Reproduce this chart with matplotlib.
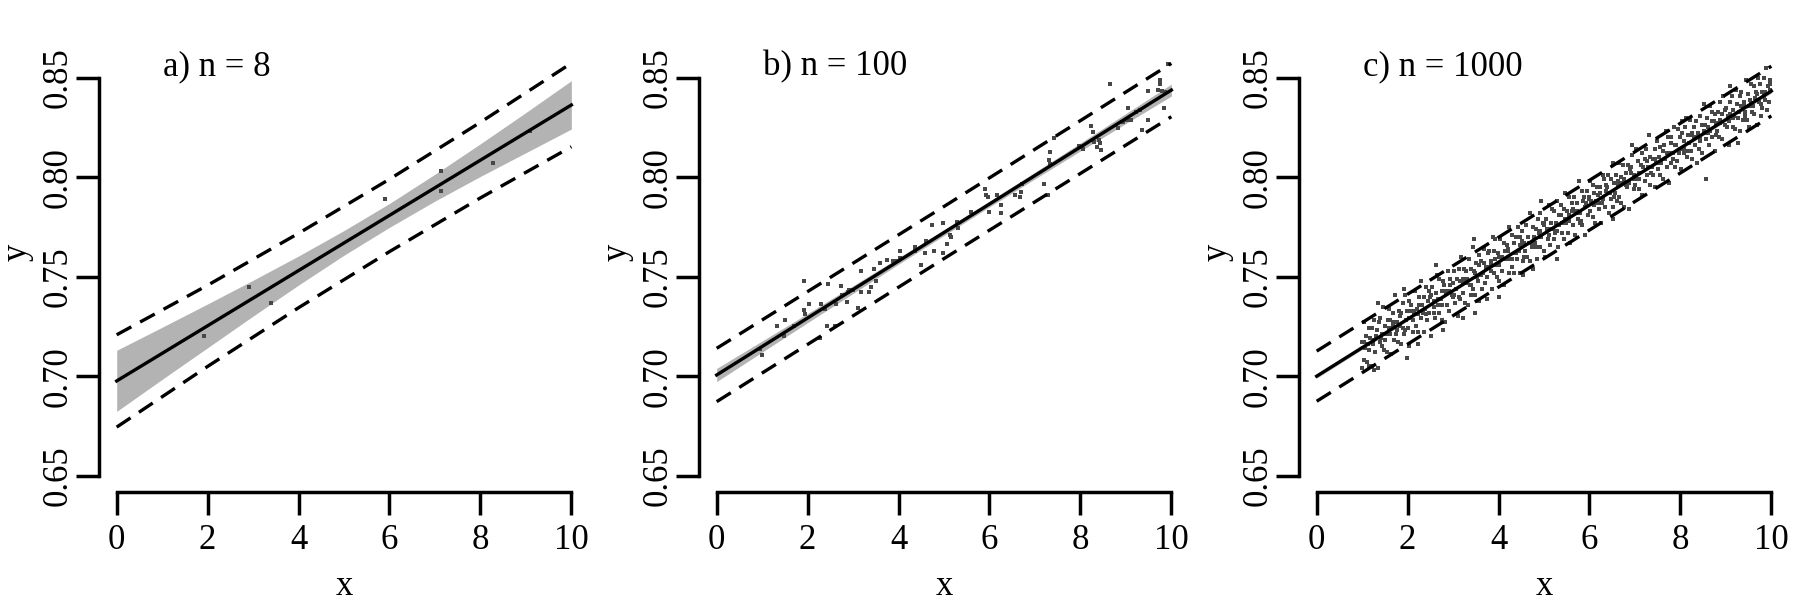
import matplotlib
matplotlib.use("Agg")
import matplotlib.pyplot as plt
import numpy as np

plt.rcParams['font.family'] = ['Liberation Serif', 'DejaVu Serif']
plt.rcParams['font.size'] = 25

# ---- panel a: n = 8 ----
xa = [1.91, 2.90, 3.40, 5.91, 7.13, 7.13, 8.27, 9.10]
ya = [0.720, 0.745, 0.737, 0.789, 0.803, 0.793, 0.807, 0.823]
a_fit_x = [0, 10]
a_fit_y = [0.6976, 0.8363]
a_band_x = [0, 1, 2, 3, 4, 5, 6, 7, 8, 9, 10]
a_band_lo = [0.6823, 0.6984, 0.7143, 0.7302, 0.7458, 0.7608, 0.7748, 0.7880, 0.8004, 0.8123, 0.8242]
a_band_hi = [0.7130, 0.7246, 0.7363, 0.7482, 0.7604, 0.7732, 0.7868, 0.8015, 0.8168, 0.8325, 0.8485]
a_pi_x = [0, 2, 4, 6, 8, 10]
a_pi_lo = [0.6744, 0.7049, 0.7344, 0.7626, 0.7896, 0.8153]
a_pi_hi = [0.7208, 0.7457, 0.7718, 0.7990, 0.8276, 0.8573]

# ---- panel b: n = 100 ----
xb = [0.95, 1.00, 1.32, 1.50, 1.49, 1.69, 1.91, 1.92, 1.94, 2.03,
      2.27, 2.29, 2.38, 2.42, 2.44, 2.60, 2.62, 2.73, 2.76, 2.86,
      2.88, 2.91, 2.99, 3.10, 3.17, 3.17, 3.35, 3.39, 3.46, 3.50,
      3.60, 3.75, 3.88, 3.96, 4.04, 4.04, 4.36, 4.36, 4.49, 4.58,
      4.61, 4.74, 4.79, 4.98, 4.97, 5.06, 5.13, 5.15, 5.28, 5.31,
      5.59, 5.90, 5.92, 5.97, 6.00, 6.16, 6.25, 6.25, 6.56, 6.67,
      6.69, 6.72, 7.20, 7.29, 7.31, 7.33, 7.34, 7.42, 7.97, 8.05,
      8.23, 8.27, 8.30, 8.37, 8.40, 8.43, 8.46, 8.65, 8.83, 8.94,
      9.03, 9.05, 9.12, 9.23, 9.30, 9.36, 9.49, 9.49, 9.71, 9.75,
      9.76, 9.80, 9.83, 9.85, 9.93]
yb = [0.7136, 0.7105, 0.7252, 0.7282, 0.7202, 0.7252, 0.7480, 0.7333, 0.7311, 0.7361,
      0.7193, 0.7361, 0.7339, 0.7252, 0.7462, 0.7252, 0.7361, 0.7451, 0.7408, 0.7371,
      0.7424, 0.7432, 0.7432, 0.7341, 0.7530, 0.7424, 0.7424, 0.7449, 0.7538, 0.7479,
      0.7570, 0.7586, 0.7580, 0.7580, 0.7629, 0.7592, 0.7647, 0.7630, 0.7559, 0.7620,
      0.7679, 0.7760, 0.7630, 0.7771, 0.7621, 0.7663, 0.7709, 0.7700, 0.7776, 0.7745,
      0.7827, 0.7939, 0.7911, 0.7900, 0.7827, 0.7911, 0.7860, 0.7818, 0.7911, 0.7898,
      0.7928, 0.7965, 0.7968, 0.7911, 0.8086, 0.8128, 0.8066, 0.8198, 0.8157, 0.8140,
      0.8257, 0.8229, 0.8179, 0.8150, 0.8186, 0.8170, 0.8136, 0.8468, 0.8245, 0.8279,
      0.8290, 0.8346, 0.8287, 0.8329, 0.8337, 0.8238, 0.8287, 0.8435, 0.8438, 0.8468,
      0.8488, 0.8435, 0.8346, 0.8430, 0.8569]
b_fit_x = [0, 10]
b_fit_y = [0.7006, 0.8438]
b_band_x = [0, 2, 4, 6, 8, 10]
b_band_lo = [0.6973, 0.7269, 0.7563, 0.7851, 0.8132, 0.8408]
b_band_hi = [0.7039, 0.7315, 0.7595, 0.7879, 0.8172, 0.8468]
b_pi_x = [0, 5, 10]
b_pi_lo = [0.6872, 0.7591, 0.8304]
b_pi_hi = [0.7140, 0.7853, 0.8572]

# ---- panel c: n = 1000 (x in hundredths, y in thousandths) ----
xc_h = [
    100, 103, 104, 106, 109, 110, 113, 115, 116, 118,
    121, 122, 124, 127, 128, 131, 132, 134, 137, 139,
    140, 143, 144, 146, 149, 150, 153, 155, 156, 158,
    161, 162, 164, 167, 168, 171, 172, 174, 177, 179,
    180, 183, 184, 186, 189, 190, 193, 195, 196, 198,
    201, 202, 204, 207, 208, 211, 212, 214, 217, 219,
    220, 223, 224, 226, 229, 230, 233, 235, 236, 238,
    241, 242, 244, 247, 248, 251, 252, 254, 257, 259,
    260, 263, 264, 266, 269, 270, 273, 275, 276, 278,
    281, 282, 284, 287, 288, 291, 292, 294, 297, 299,
    300, 303, 304, 306, 309, 310, 313, 315, 316, 318,
    321, 322, 324, 327, 328, 331, 332, 334, 337, 339,
    340, 343, 344, 346, 349, 350, 353, 355, 356, 358,
    361, 362, 364, 367, 368, 371, 372, 374, 377, 379,
    380, 383, 384, 386, 389, 390, 393, 395, 396, 398,
    401, 402, 404, 407, 408, 411, 412, 414, 417, 419,
    420, 423, 424, 426, 429, 430, 433, 435, 436, 438,
    441, 442, 444, 447, 448, 451, 452, 454, 457, 459,
    460, 463, 464, 466, 469, 470, 473, 475, 476, 478,
    481, 482, 484, 487, 488, 491, 492, 494, 497, 499,
    500, 503, 504, 506, 509, 510, 513, 515, 516, 518,
    521, 522, 524, 527, 528, 531, 532, 534, 537, 539,
    540, 543, 544, 546, 549, 550, 553, 555, 556, 558,
    561, 562, 564, 567, 568, 571, 572, 574, 577, 579,
    580, 583, 584, 586, 589, 590, 593, 595, 596, 598,
    601, 602, 604, 607, 608, 611, 612, 614, 617, 619,
    620, 623, 624, 626, 629, 630, 633, 635, 636, 638,
    641, 642, 644, 647, 648, 651, 652, 654, 657, 659,
    660, 663, 664, 666, 669, 670, 673, 675, 676, 678,
    681, 682, 684, 687, 688, 691, 692, 694, 697, 699,
    700, 703, 704, 706, 709, 710, 713, 715, 716, 718,
    721, 722, 724, 727, 728, 731, 732, 734, 737, 739,
    740, 743, 744, 746, 749, 750, 753, 755, 756, 758,
    761, 762, 764, 767, 768, 771, 772, 774, 777, 779,
    780, 783, 784, 786, 789, 790, 793, 795, 796, 798,
    801, 802, 804, 807, 808, 811, 812, 814, 817, 819,
    820, 823, 824, 826, 829, 830, 833, 835, 836, 838,
    841, 842, 844, 847, 848, 851, 852, 854, 857, 859,
    860, 863, 864, 866, 869, 870, 873, 875, 876, 878,
    881, 882, 884, 887, 888, 891, 892, 894, 897, 899,
    900, 903, 904, 906, 909, 910, 913, 915, 916, 918,
    921, 922, 924, 927, 928, 931, 932, 934, 937, 939,
    940, 943, 944, 946, 949, 950, 953, 955, 956, 958,
    961, 962, 964, 967, 968, 971, 972, 974, 977, 979,
    980, 983, 984, 986, 989, 990, 993, 995, 996, 998,
    134, 191, 198, 223, 262, 278, 322, 347, 348, 388,
    402, 454, 494, 528, 652, 693, 803, 856, 909, 927,
    100, 114, 127,
    105, 114, 123, 132, 141, 150, 159, 168, 177, 186,
    195, 204, 213, 222, 231, 240, 249, 258, 267, 276,
    285, 294, 303, 312, 321, 330, 339, 348, 357, 366,
    375, 384, 393, 402, 411, 420, 429, 438, 447, 456,
    465, 474, 483, 492, 501, 510, 519, 528, 537, 546,
    555, 564, 573, 582, 591, 600, 609, 618, 627, 636,
    645, 654, 663, 672, 681, 690, 699, 708, 717, 726,
    735, 744, 753, 762, 771, 780, 789, 798, 807, 816,
    825, 834, 843, 852, 861, 870, 879, 888, 897, 906,
    915, 924, 933, 942, 951, 960, 969, 978, 987, 996]
yc_m = [
    717, 708, 727, 714, 720, 707, 716, 724, 713, 719,
    705, 724, 716, 728, 712, 720, 723, 704, 727, 717,
    729, 715, 721, 735, 713, 725, 721, 712, 728, 734,
    721, 728, 711, 732, 725, 718, 741, 721, 727, 717,
    733, 725, 730, 716, 737, 724, 721, 741, 728, 733,
    724, 738, 715, 733, 736, 728, 722, 732, 743, 725,
    734, 722, 740, 736, 729, 748, 732, 722, 740, 734,
    745, 728, 738, 732, 743, 720, 741, 745, 732, 738,
    729, 742, 751, 736, 732, 749, 739, 728, 743, 748,
    746, 727, 743, 736, 753, 743, 733, 749, 741, 747,
    740, 753, 737, 744, 749, 730, 754, 748, 739, 760,
    747, 742, 754, 737, 753, 749, 736, 759, 746, 741,
    754, 765, 744, 753, 741, 757, 750, 748, 761, 738,
    751, 758, 744, 764, 757, 747, 755, 739, 762, 755,
    763, 753, 758, 744, 763, 752, 769, 756, 750, 762,
    748, 760, 769, 753, 760, 767, 746, 763, 759, 766,
    763, 752, 775, 759, 755, 771, 767, 752, 762, 770,
    759, 775, 763, 770, 752, 768, 773, 758, 767, 763,
    776, 760, 770, 767, 758, 782, 765, 775, 754, 770,
    767, 774, 759, 779, 772, 765, 782, 770, 777, 763,
    776, 760, 779, 774, 769, 786, 766, 777, 774, 784,
    769, 783, 772, 777, 788, 765, 781, 776, 786, 772,
    777, 769, 784, 792, 777, 783, 772, 790, 781, 767,
    787, 783, 776, 790, 771, 782, 787, 779, 798, 777,
    782, 793, 776, 788, 790, 771, 787, 793, 781, 789,
    798, 783, 788, 780, 796, 792, 777, 788, 795, 787,
    784, 795, 792, 777, 801, 789, 799, 785, 793, 795,
    801, 782, 792, 799, 789, 807, 785, 797, 792, 801,
    788, 796, 807, 790, 800, 787, 806, 799, 785, 797,
    802, 795, 806, 797, 784, 805, 802, 811, 794, 801,
    796, 814, 799, 808, 802, 794, 806, 791, 812, 805,
    809, 798, 814, 801, 805, 821, 796, 810, 805, 801,
    809, 814, 795, 807, 818, 804, 810, 815, 801, 807,
    799, 813, 816, 809, 823, 805, 820, 797, 812, 817,
    820, 809, 812, 825, 805, 816, 808, 824, 812, 820,
    814, 804, 822, 818, 812, 825, 830, 810, 821, 817,
    829, 813, 821, 809, 825, 820, 816, 828, 807, 822,
    814, 831, 819, 826, 812, 837, 822, 826, 819, 830,
    825, 816, 836, 823, 833, 820, 828, 813, 832, 827,
    823, 833, 820, 838, 827, 832, 819, 841, 826, 834,
    835, 825, 831, 816, 838, 832, 841, 825, 834, 831,
    824, 844, 837, 830, 833, 823, 841, 843, 829, 838,
    836, 833, 849, 829, 842, 825, 839, 837, 847, 833,
    846, 832, 840, 843, 826, 850, 838, 847, 831, 843,
    835, 850, 841, 839, 855, 834, 846, 838, 849, 844,
    737, 744, 709, 716, 756, 723, 729, 769, 732, 770,
    740, 751, 788, 759, 779, 816, 828, 799, 846, 817,
    704, 705, 703,
    717, 713, 718, 723, 719, 718, 724, 727, 723, 732,
    723, 729, 733, 731, 736, 731, 740, 735, 739, 736,
    742, 746, 741, 740, 749, 747, 746, 752, 756, 752,
    750, 756, 759, 756, 759, 764, 759, 762, 766, 760,
    770, 767, 765, 773, 777, 771, 774, 773, 781, 779,
    778, 784, 783, 778, 785, 790, 786, 791, 787, 796,
    792, 790, 798, 797, 796, 804, 799, 799, 805, 808,
    802, 809, 807, 813, 812, 807, 816, 814, 814, 813,
    822, 820, 818, 823, 822, 828, 821, 829, 834, 828,
    830, 837, 836, 831, 836, 836, 842, 837, 843, 847]
c_fit_x = [0, 10]
c_fit_y = [0.7000, 0.8433]
c_band_x = [0, 5, 10]
c_band_lo = [0.6990, 0.7712, 0.8423]
c_band_hi = [0.7010, 0.7722, 0.8443]
c_pi_x = [0, 5, 10]
c_pi_lo = [0.6874, 0.7591, 0.8308]
c_pi_hi = [0.7126, 0.7841, 0.8558]

xc = np.array(xc_h) / 100.0
yc = np.array(yc_m) / 1000.0

panels = [
    ('a) n = 8', xa, ya, 2.9, a_fit_x, a_fit_y, a_band_x, a_band_lo, a_band_hi, a_pi_x, a_pi_lo, a_pi_hi),
    ('b) n = 100', xb, yb, 2.9, b_fit_x, b_fit_y, b_band_x, b_band_lo, b_band_hi, b_pi_x, b_pi_lo, b_pi_hi),
    ('c) n = 1000', xc, yc, 3.5, c_fit_x, c_fit_y, c_band_x, c_band_lo, c_band_hi, c_pi_x, c_pi_lo, c_pi_hi),
]

fig = plt.figure(figsize=(18, 6), dpi=100)
lefts = [98.5 / 1800, 698.5 / 1800, 1298.5 / 1800]

for left, (title, px, py, msz, fx, fy, bx, blo, bhi, qx, qlo, qhi) in zip(lefts, panels):
    ax = fig.add_axes([left, 0.1807, 0.2728, 0.7163])
    ax.fill_between(bx, blo, bhi, color='#b3b3b3', lw=0, zorder=1)
    ax.plot(px, py, ls='none', marker='s', ms=msz, mew=0, color='#474747', zorder=2)
    ax.plot(fx, fy, color='black', lw=2.4, zorder=3)
    ax.plot(qx, qlo, color='black', lw=2.4, ls=(0, (5, 3)), zorder=3)
    ax.plot(qx, qhi, color='black', lw=2.4, ls=(0, (5, 3)), zorder=3)

    ax.set_xlim(-0.4, 10.4)
    ax.set_ylim(0.642, 0.858)
    ax.set_xticks([0, 2, 4, 6, 8, 10])
    ax.set_yticks([0.65, 0.70, 0.75, 0.80, 0.85])
    ax.set_yticklabels(['0.65', '0.70', '0.75', '0.80', '0.85'], rotation=90, va='center')
    for s in ['top', 'right']:
        ax.spines[s].set_visible(False)
    ax.spines['left'].set_bounds(0.65, 0.85)
    ax.spines['bottom'].set_bounds(0, 10)
    for s in ['left', 'bottom']:
        ax.spines[s].set_linewidth(2.5)
    ax.tick_params(axis='both', direction='out', length=16.5, width=2.5, labelsize=25)
    ax.tick_params(axis='y', pad=1)
    ax.tick_params(axis='x', pad=7)

    ax.text(0.131, 0.988, title, transform=ax.transAxes, ha='left', va='center', fontsize=25)
    ax.text(0.5, -0.221, 'x', transform=ax.transAxes, ha='center', va='center', fontsize=25)
    ax.text(-0.166, 0.556, 'y', transform=ax.transAxes, ha='center', va='center',
            rotation=90, fontsize=25)

fig.savefig('out.png', dpi=100)
plt.close(fig)
